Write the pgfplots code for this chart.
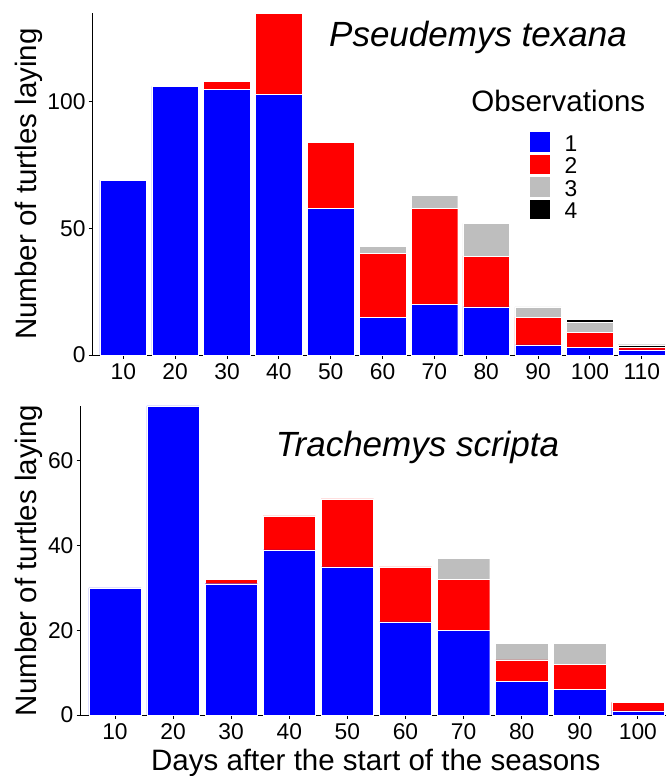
\documentclass[border=0pt]{standalone}
\usepackage{fontspec}
\setmainfont{Liberation Sans}
\usepackage{pgfplots}
\pgfplotsset{compat=1.18}

\definecolor{obsone}{RGB}{0,0,255}
\definecolor{obstwo}{RGB}{255,0,0}
\definecolor{obsthree}{RGB}{190,190,190}
\definecolor{obsfour}{RGB}{0,0,0}

\newcommand{\bigfont}{\fontsize{29.5}{32}\selectfont}
\newcommand{\ticksfont}{\fontsize{22.8}{24}\selectfont}
\newcommand{\titlefont}{\fontsize{35}{40}\selectfont\itshape}

\pgfplotsset{
  turtle/.style={
    scale only axis, ybar stacked, bar width=9, enlargelimits=false,
    axis x line*=bottom, axis y line*=left,
    axis line style={-, black, line width=0.9pt},
    tick style={black, line width=0.9pt}, tick align=outside,
    major tick length=3.5pt,
    ticklabel style={font=\ticksfont},
    /pgf/number format/assume math mode=true,
    xticklabel style={inner sep=0pt, anchor=north, yshift=-4.5pt},
    yticklabel style={inner sep=0pt, anchor=east, xshift=-3pt},
    label style={font=\bigfont},
    every axis plot/.append style={draw=white, line width=0.4pt},
  },
}

\begin{document}
\begin{tikzpicture}
\path[use as bounding box] (0,0) rectangle (666pt,-776pt);

% Pseudemys texana
\begin{axis}[turtle,
  at={(92.2pt,-355pt)}, anchor=south west,
  width=573.8pt, height=342pt,
  xmin=4, xmax=114.67, ymin=0, ymax=135,
  xtick={10,20,...,110}, ytick={0,50,100},
  ylabel={Number of turtles laying},
  y label style={at={(rel axis cs:-0.1101,0.5)}, anchor=center},
  legend image code/.code={\draw[#1] (0pt,-0.7pt) rectangle (20.7pt,20pt);},
  legend style={at={(rel axis cs:0.7618,0.655)}, anchor=north west,
    draw=none, fill=none, inner sep=0pt, outer sep=0pt,
    row sep=0pt, column sep=14.2pt, cells={anchor=base west},
    nodes={inner sep=0pt, text height=20pt, text depth=2.4pt, font=\ticksfont}},
]
\addplot[fill=obsone] coordinates {(10,69)(20,106)(30,105)(40,103)(50,58)(60,15)(70,20)(80,19)(90,4)(100,3)(110,2)};
\addlegendentry{1}
\addplot[fill=obstwo] coordinates {(10,0)(20,0)(30,3)(40,32)(50,26)(60,25)(70,38)(80,20)(90,11)(100,6)(110,1)};
\addlegendentry{2}
\addplot[fill=obsthree] coordinates {(10,0)(20,0)(30,0)(40,0)(50,0)(60,3)(70,5)(80,13)(90,4)(100,4)(110,0)};
\addlegendentry{3}
\addplot[fill=obsfour] coordinates {(10,0)(20,0)(30,0)(40,0)(50,0)(60,0)(70,0)(80,0)(90,0)(100,1)(110,1)};
\addlegendentry{4}
\node[anchor=base, font=\titlefont] at (rel axis cs:0.6724,0.9006) {Pseudemys texana};
\node[anchor=base, font=\bigfont] at (rel axis cs:0.8123,0.7114) {Observations};
\end{axis}

% Trachemys scripta
\begin{axis}[turtle,
  at={(80.1pt,-715pt)}, anchor=south west,
  width=585.9pt, height=309.2pt,
  xmin=4, xmax=104.84, ymin=0, ymax=73,
  xtick={10,20,...,100}, ytick={0,20,40,60},
  ylabel={Number of turtles laying},
  y label style={at={(rel axis cs:-0.0872,0.5)}, anchor=center},
  xlabel={Days after the start of the seasons},
  x label style={at={(rel axis cs:0.5047,-0.1779)}, anchor=base},
]
\addplot[fill=obsone] coordinates {(10,30)(20,73)(30,31)(40,39)(50,35)(60,22)(70,20)(80,8)(90,6)(100,1)};
\addplot[fill=obstwo] coordinates {(10,0)(20,0)(30,1)(40,8)(50,16)(60,13)(70,12)(80,5)(90,6)(100,2)};
\addplot[fill=obsthree] coordinates {(10,0)(20,0)(30,0)(40,0)(50,0)(60,0)(70,5)(80,4)(90,5)(100,0)};
\node[anchor=base, font=\titlefont] at (rel axis cs:0.5759,0.8376) {Trachemys scripta};
\end{axis}
\end{tikzpicture}
\end{document}
